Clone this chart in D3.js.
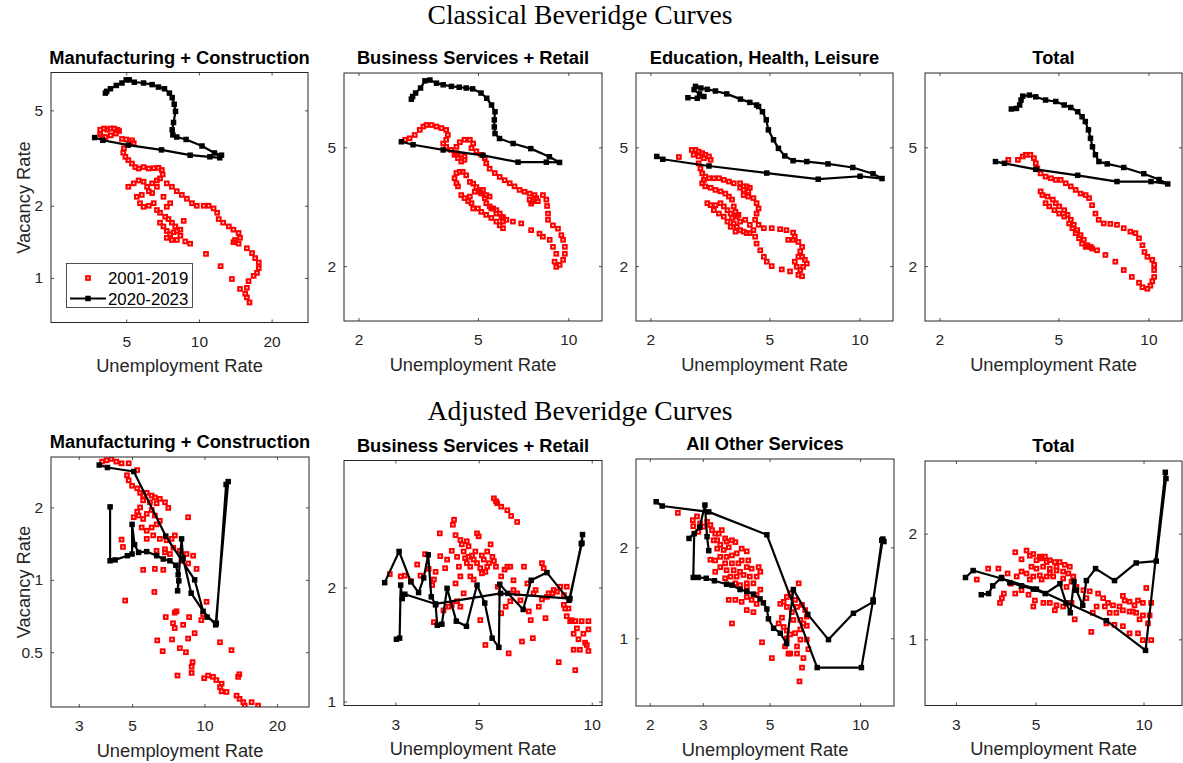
<!DOCTYPE html>
<html>
<head>
<meta charset="utf-8">
<script src="https://cdn.jsdelivr.net/npm/d3@7"></script>
<style>
  html, body { margin: 0; padding: 0; background: #ffffff; }
  svg { display: block; }
</style>
</head>
<body>
<svg id="chart" width="1183" height="763"></svg>
<script>
// ---------------------------------------------------------------
// Series: [unemployment rate, vacancy rate]
// ---------------------------------------------------------------
const seriesNames = ["2001-2019", "2020-2023"];
const rowTitles = ["Classical Beveridge Curves", "Adjusted Beveridge Curves"];
const panelTitles = [
  "Manufacturing + Construction", "Business Services + Retail", "Education, Health, Leisure", "Total",
  "Manufacturing + Construction", "Business Services + Retail", "All Other Services", "Total"
];
const xLabel = "Unemployment Rate";
const yLabel = "Vacancy Rate";

// Classical curves -------------------------------------------------
const classicMfgHist = [
  [3.9,4.15],[4.05,4.2],[4.17,4.15],[4.3,4.2],[4.45,4.2],[4.6,4.15],[4.67,4.1],[4.53,4.0],[4.31,3.93],[4.1,3.87],
  [3.97,3.87],[3.9,3.97],[4.8,3.8],[5.0,3.78],[5.28,3.75],[5.37,3.65],[4.89,3.47],[4.86,3.33],[4.96,3.2],[5.1,3.1],
  [5.28,3.0],[5.45,2.9],[5.63,2.86],[5.9,2.9],[6.2,2.86],[6.5,2.87],[6.8,2.88],[7.02,2.82],[7.08,2.7],[6.9,2.6],
  [6.7,2.55],[5.1,2.4],[5.37,2.48],[5.63,2.55],[5.9,2.52],[6.1,2.4],[6.4,2.48],[6.7,2.4],[6.2,2.3],[5.8,2.22],
  [5.53,2.18],[5.7,2.05],[5.9,1.98],[6.2,2.0],[6.5,2.05],[6.7,1.92],[6.9,1.87],[7.25,1.8],[7.48,1.76],[7.73,1.7],
  [7.98,1.64],[8.1,1.57],[8.38,1.5],[8.78,1.42],[9.2,1.39],[7.85,1.55],[7.36,1.57],[7.13,1.64],[6.9,1.7],[7.6,1.52],
  [7.36,1.47],[7.73,1.44],[8.1,1.44],[8.38,1.59],[8.65,1.73],[7.36,1.98],[7.6,2.05],[7.13,2.18],[6.4,2.26],
  [7.36,2.48],[7.73,2.4],[8.1,2.3],[8.5,2.22],[8.92,2.14],[9.36,2.05],[9.8,2.0],[10.47,2.0],[10.97,2.0],[11.5,1.95],
  [11.9,1.87],[12.08,1.76],[12.6,1.7],[13.3,1.64],[13.9,1.59],[14.6,1.54],[14.8,1.47],[14.1,1.44],[13.9,1.41],
  [14.6,1.39],[15.8,1.33],[16.6,1.27],[17.1,1.21],[17.7,1.16],[17.7,1.1],[17.4,1.05],[16.85,1.02],[16.05,0.97],
  [15.8,0.91],[15.55,0.86],[15.8,0.83],[16.2,0.79],[10.7,1.26],[12.3,1.12],[13.7,0.99],[14.8,0.9]
];
const classicMfgCovid = [
  [3.7,3.85],[4.0,3.75],[5.1,3.58],[7.0,3.42],[9.2,3.25],[11.1,3.2],[12.2,3.17],[12.4,3.25],[11.6,3.32],[10.3,3.55],
  [8.85,3.78],[8.1,3.87],[7.8,3.95],[7.75,4.15],[7.85,4.45],[8.0,4.95],[7.9,5.3],[7.75,5.65],[7.55,5.9],[7.2,6.15],
  [6.8,6.25],[6.4,6.4],[5.9,6.5],[5.4,6.55],[5.15,6.7],[5.0,6.7],[4.8,6.5],[4.55,6.35],[4.3,6.15],[4.15,6.0],[4.1,5.9]
];

const classicBizHist = [
  [2.86,5.3],[2.96,5.36],[3.08,5.5],[3.2,5.72],[3.29,5.87],[3.37,5.94],[3.5,5.94],[3.64,5.87],[3.78,5.8],[3.92,5.72],
  [3.97,5.5],[3.92,5.3],[3.83,5.15],[3.92,5.02],[4.07,4.9],[4.24,4.78],[4.4,4.72],[4.51,4.66],[4.51,4.54],[4.4,4.48],
  [4.29,4.6],[4.18,4.72],[4.24,5.02],[4.35,5.2],[4.51,5.3],[4.7,5.3],[4.82,5.15],[4.76,4.97],[4.94,4.85],[5.13,4.72],
  [5.27,4.6],[5.33,4.42],[5.47,4.24],[5.69,4.1],[5.91,3.98],[6.14,3.88],[6.38,3.79],[6.62,3.7],[6.88,3.6],[7.15,3.55],
  [7.43,3.5],[7.72,3.46],[7.82,3.38],[7.62,3.3],[7.43,3.34],[7.52,3.24],[7.92,3.3],[8.23,3.46],[8.45,3.34],[8.5,3.18],
  [8.56,3.0],[8.56,2.86],[8.89,2.74],[9.24,2.67],[9.48,2.54],[9.61,2.45],[9.74,2.32],[9.74,2.2],[9.61,2.1],[9.36,2.02],
  [9.12,1.99],[9.0,2.07],[9.12,2.2],[8.89,2.32],[8.67,2.45],[8.23,2.51],[8.02,2.57],[7.52,2.64],[6.97,2.78],[6.54,2.82],
  [6.22,2.86],[6.06,2.92],[5.91,3.0],[5.76,3.08],[5.62,3.12],[5.47,3.17],[5.33,3.25],[5.27,3.38],[5.13,3.5],[5.07,3.6],
  [4.94,3.68],[4.82,3.78],[4.7,3.83],[4.57,4.03],[4.45,4.14],[4.35,4.14],[4.24,4.1],[4.18,3.94],[4.24,3.79],[4.29,3.7],
  [4.4,3.46],[4.51,3.38],[4.7,3.42],[4.88,3.55],[5.07,3.55],[5.2,3.6],[5.33,3.46],[5.47,3.42],[5.54,3.12],[5.76,3.0],
  [5.99,2.92],[6.06,2.82],[6.06,2.68],[5.91,2.74],[5.76,2.82],[5.54,2.9],[5.33,2.97],[5.13,3.04],[5.0,3.12],[4.82,3.12],
  [4.76,3.25],[4.64,3.3]
];
const classicBizCovid = [
  [2.78,5.22],[3.04,5.1],[3.83,4.9],[5.2,4.7],[6.8,4.46],[8.45,4.46],[9.35,4.45],[8.65,4.65],[7.5,4.95],[6.55,5.15],
  [5.9,5.35],[5.7,5.56],[5.67,5.85],[5.67,6.18],[5.7,6.58],[5.55,6.93],[5.35,7.3],[5.12,7.6],[4.8,7.85],[4.57,7.9],
  [4.33,7.95],[4.08,8.0],[3.83,8.1],[3.64,8.2],[3.46,8.4],[3.33,8.35],[3.22,7.9],[3.1,7.6],[3.03,7.4],[3.0,7.25]
];

const classicEduHist = [
  [2.75,4.9],[2.83,4.9],[2.9,4.84],[2.98,4.78],[3.05,4.72],[3.14,4.66],[3.18,4.54],[3.02,4.6],[2.9,4.66],[2.79,4.72],
  [2.9,4.42],[2.94,4.25],[2.98,4.09],[3.05,3.99],[3.14,3.94],[3.26,3.94],[3.39,3.94],[3.52,3.89],[3.66,3.84],[3.8,3.79],
  [3.99,3.79],[4.1,3.7],[4.2,3.7],[4.3,3.66],[4.25,3.56],[4.1,3.6],[3.99,3.66],[2.49,4.64],
  [3.02,3.89],[2.98,3.79],[3.05,3.7],[3.18,3.66],[3.3,3.6],[3.43,3.56],[3.56,3.5],[3.66,3.42],[3.75,3.34],[3.8,3.17],
  [3.85,3.04],[3.94,2.97],[4.15,2.86],[4.3,2.75],[4.42,2.64],[4.48,2.51],[4.53,2.38],[4.66,2.26],[4.79,2.15],[4.9,2.07],
  [5.09,2.0],[5.5,1.95],[5.86,1.92],[6.25,1.87],[6.43,1.85],
  [4.1,3.46],[4.25,3.42],[4.42,3.38],[4.53,3.25],[4.6,3.12],[4.53,3.0],[4.48,2.86],[4.6,2.75],[4.79,2.68],[5.09,2.68],
  [5.43,2.66],[5.7,2.64],[6.0,2.59],[6.08,2.51],[6.25,2.41],[6.43,2.32],[6.34,2.24],[6.43,2.15],[6.57,2.1],[6.67,2.04],
  [6.48,1.99],[6.34,1.94],[6.17,1.99],[6.08,2.07],[6.25,2.15],[6.0,2.45],[5.78,2.45],
  [3.1,3.25],[3.18,3.2],[3.3,3.2],[3.43,3.25],[3.52,3.17],[3.62,3.08],[3.71,3.0],[3.75,2.9],[3.62,2.82],[3.8,2.78],
  [3.89,2.71],[3.99,2.64],[4.1,2.61],[4.2,2.58],[4.3,2.58],[3.99,2.82],[3.89,2.93],[3.26,3.08],[3.39,3.0],[3.52,2.93],
  [3.71,2.71],[3.85,2.61]
];
const classicEduCovid = [
  [2.1,4.66],[2.2,4.56],[3.14,4.33],[4.9,4.1],[7.28,3.91],[10.05,4.0],[11.9,3.93],[11.1,4.08],[9.5,4.28],[7.85,4.4],
  [6.67,4.48],[6.0,4.51],[5.63,4.68],[5.36,4.96],[5.16,5.3],[4.96,5.72],[4.88,6.18],[4.74,6.58],[4.6,6.85],[4.53,6.93],
  [4.3,7.07],[4.0,7.25],[3.6,7.55],[3.3,7.72],[3.1,7.82],[2.95,7.9],[2.83,8.0],[2.8,7.8],[2.92,7.55],[3.02,7.4],
  [2.87,7.3],[2.67,7.33]
];

const classicTotalHist = [
  [3.4,4.54],[3.66,4.54],[3.8,4.66],[3.89,4.72],[4.03,4.72],[4.14,4.6],[4.2,4.42],[4.25,4.25],[4.36,4.09],[4.53,3.99],
  [4.72,3.94],[4.9,3.89],[5.09,3.89],[5.29,3.79],[5.5,3.7],[5.71,3.6],[5.93,3.5],[6.17,3.46],[6.33,3.38],[6.48,3.2],
  [6.65,3.0],[6.82,2.86],[7.09,2.78],[7.46,2.77],[7.85,2.75],[8.27,2.68],[8.7,2.61],[9.05,2.58],[9.3,2.48],[9.55,2.35],
  [9.7,2.23],[9.92,2.15],[10.3,2.1],[10.45,2.02],[10.45,1.94],[10.45,1.84],[10.3,1.78],[10.15,1.72],[9.92,1.68],[9.55,1.7],
  [9.3,1.76],[8.8,1.84],[8.27,1.94],[7.75,2.07],[7.18,2.18],[6.73,2.26],[6.48,2.29],[6.25,2.35],[6.08,2.45],[5.93,2.54],
  [5.78,2.64],[5.63,2.75],[5.5,2.86],[5.36,2.97],[5.23,3.08],[5.03,3.17],[4.9,3.25],[4.79,3.34],[4.6,3.42],[4.42,3.46],
  [4.36,3.56],[4.53,3.25],[4.66,3.17],[4.85,3.08],[5.03,3.0],[5.23,2.93],[5.43,2.78],[5.57,2.68],[5.71,2.58],[5.86,2.48],
  [6.0,2.38],[6.17,2.32],[6.41,2.32]
];
const classicTotalCovid = [
  [3.08,4.48],[3.3,4.42],[4.2,4.22],[5.8,4.03],[7.85,3.84],[10.2,3.84],[11.6,3.77],[10.85,3.9],[9.65,4.08],[8.27,4.28],
  [7.28,4.4],[6.83,4.48],[6.65,4.72],[6.5,5.02],[6.4,5.36],[6.3,5.72],[6.15,6.1],[6.0,6.33],[5.8,6.58],[5.5,6.8],
  [5.23,6.93],[4.9,7.12],[4.53,7.2],[4.2,7.38],[4.0,7.48],[3.8,7.42],[3.75,7.2],[3.71,6.93],[3.62,6.75],[3.48,6.72]
];

// Adjusted curves --------------------------------------------------
const adjMfgHist = [
  [3.75,3.1],[3.92,3.14],[4.1,3.18],[4.3,3.1],[4.52,3.05],[4.84,3.05],[5.25,2.86],[4.76,2.72],[4.84,2.59],[5.0,2.46],
  [5.25,2.4],[5.4,2.3],[5.56,2.24],[5.75,2.3],[6.03,2.24],[6.22,2.2],[6.52,2.17],[6.85,2.1],[7.07,1.99],[6.32,2.08],
  [5.93,2.1],[5.56,2.14],[5.4,2.0],[5.25,1.92],[5.08,1.82],[5.32,1.85],[5.56,1.79],[5.75,1.88],[6.03,1.95],[6.22,1.85],
  [6.52,1.76],[6.32,1.7],[6.03,1.65],[5.75,1.6],[5.48,1.65],[5.75,1.48],[6.12,1.53],[6.52,1.48],[6.96,1.46],[7.3,1.48],
  [7.53,1.53],[7.42,1.36],[7.9,1.32],[8.42,1.28],[8.97,1.26],[9.27,1.11],[8.55,1.17],[8.03,1.2],[7.18,1.28],[6.85,1.34],
  [6.32,1.32],[4.52,1.47],[4.58,1.37],[5.56,1.1],[6.22,1.11],[6.74,1.1],[6.85,1.3],[6.19,0.89],[4.68,0.82],[6.9,0.7],
  [7.52,0.73],[7.65,0.74],[7.4,0.66],[7.52,0.63],[8.15,0.65],[8.63,0.7],[9.1,0.6],[8.55,0.57],[7.9,0.52],[8.37,0.5],
  [6.36,0.56],[6.7,0.505],[7.33,0.565],[8.92,0.455],[8.84,0.435],[8.84,0.41],[7.72,0.4],[9.97,0.39],[10.35,0.4],[10.85,0.395],
  [11.2,0.383],[11.78,0.37],[11.6,0.358],[11.78,0.344],[12.35,0.342],[12.95,0.51],[11.6,0.55],[13.8,0.395],[13.95,0.405],
  [13.6,0.33],[14.0,0.32],[14.5,0.31],[14.7,0.3],[15.7,0.31],[16.7,0.3],[8.55,1.82],[10.2,0.81],[9.7,0.68],[9.87,0.72]
];
const adjMfgCovid = [
  [4.05,2.01],[4.05,1.2],[4.25,1.21],[4.78,1.26],[5.0,1.28],[5.0,1.7],[5.12,1.4],[5.32,1.3],[5.75,1.31],[6.33,1.26],
  [6.74,1.22],[7.18,1.2],[7.6,1.15],[7.77,1.05],[7.82,0.99],[7.73,0.9],[8.03,1.48],[8.15,1.23],[8.8,0.88],[10.25,0.7],
  [11.2,0.66],[12.3,2.49],[12.55,2.56],[11.13,0.65],[9.87,0.74],[9.1,1.0],[6.9,1.52],[5.08,2.82],[3.95,2.93],[3.65,3.0]
];

const adjBizHist = [
  [2.9,2.17],[3.1,2.14],[3.18,2.15],[3.3,2.08],[3.43,2.3],[3.5,2.15],[3.6,2.45],[3.68,2.24],[3.8,2.1],[3.84,2.2],
  [3.76,2.03],[3.8,1.62],[3.94,2.78],[3.95,2.42],[4.03,1.74],[4.07,2.25],[4.12,2.37],[4.24,2.5],[4.3,3.02],[4.27,2.93],
  [4.34,2.75],[4.38,2.41],[4.43,2.27],[4.47,2.67],[4.51,2.6],[4.56,2.49],[4.6,2.39],[4.65,2.65],[4.7,2.57],[4.75,2.27],
  [4.8,2.43],[4.85,2.37],[4.9,2.49],[4.95,2.78],[5.0,2.73],[4.95,2.32],[5.05,2.25],[5.05,1.64],[5.1,2.18],[5.16,2.37],
  [5.21,1.41],[5.27,2.49],[5.38,2.6],[5.44,2.41],[5.49,2.35],[5.56,2.27],[5.49,3.44],[5.56,3.38],[5.6,3.34],[5.74,3.27],
  [5.96,3.2],[6.1,3.09],[6.33,2.98],[5.62,2.01],[5.74,2.14],[5.86,2.23],[5.96,2.27],[6.07,2.27],[5.74,1.71],[5.9,1.78],
  [6.01,1.34],[6.07,1.84],[6.19,1.97],[6.33,1.93],[6.46,1.85],[6.52,1.44],[6.6,2.27],[6.8,1.73],[6.88,1.64],[6.97,1.47],
  [7.09,1.97],[7.23,1.78],[7.37,2.32],[7.45,2.25],[7.53,1.66],[7.6,1.89],[7.68,1.93],[7.92,1.97],[8.17,1.27],[8.43,1.8],
  [8.5,1.76],[8.58,1.68],[8.67,1.76],[8.76,1.63],[8.84,1.64],[8.95,1.51],[9.04,1.63],[9.13,1.56],[9.22,1.46],[9.3,1.37],
  [9.4,1.63],[9.5,1.51],[9.6,1.43],[9.7,1.41],[9.8,1.55],[9.8,1.63],[9.8,1.36],[9.04,1.21],[8.95,1.37],[8.58,2.01],
  [8.43,1.91],[8.25,2.01],[8.08,1.95],[7.85,1.93],[7.37,1.86],[7.0,1.93],[6.74,2.05],[6.19,2.09],[5.21,2.2],[4.16,1.78],
  [4.24,1.8],[4.38,1.84],[4.47,1.78],[4.56,1.93],[4.34,2.05],[4.7,2.41],[4.65,2.32],[5.1,2.43],[4.75,2.14],[4.47,2.14],
  [5.33,2.32],[4.85,2.1],[5.27,2.27]
];
const adjBizCovid = [
  [2.81,2.06],[3.07,2.49],[3.3,2.07],[3.46,1.94],[3.57,2.12],[3.67,2.44],[3.74,1.89],[3.84,1.8],[3.88,1.59],[3.99,1.6],
  [4.12,1.99],[4.36,1.63],[4.64,1.58],[4.95,2.03],[5.19,1.82],[5.43,1.47],[5.66,1.39],[5.69,2.04],[5.98,1.93],[6.57,1.75],
  [6.9,2.09],[7.6,2.19],[8.7,1.85],[9.42,2.62],[9.45,2.76],[9.38,2.61],[8.75,1.87],[5.72,1.93],[3.84,1.81],[3.18,1.92],
  [3.13,1.87],[3.1,2.03],[3.08,1.47],[3.02,1.46]
];

const adjOtherHist = [
  [2.48,2.6],[2.78,2.46],[2.87,2.53],[2.94,2.4],[2.79,2.35],[2.9,2.25],[3.02,2.34],[3.1,2.43],[3.18,2.37],[3.22,2.28],
  [3.3,2.22],[3.26,2.11],[3.39,2.22],[3.47,2.28],[3.35,2.11],[3.43,2.04],[3.56,2.14],[3.6,2.09],[3.75,2.11],[3.85,2.08],
  [3.66,2.0],[3.52,1.96],[3.35,1.98],[3.18,1.82],[3.3,1.81],[3.43,1.86],[3.6,1.86],[3.75,1.88],[3.89,1.91],[4.04,1.98],
  [4.2,1.94],[4.04,1.81],[3.94,1.77],[3.75,1.77],[3.56,1.77],[3.43,1.72],[3.3,1.66],[3.6,1.68],[3.8,1.68],[3.99,1.66],
  [4.2,1.72],[4.25,1.81],[4.36,1.7],[4.6,1.72],[4.66,1.66],[4.53,1.6],[4.3,1.6],[4.1,1.62],[3.89,1.6],[3.71,1.6],
  [3.56,1.58],[3.85,1.52],[3.99,1.5],[4.2,1.52],[4.42,1.52],[4.66,1.45],[4.2,1.37],[4.36,1.34],[4.53,1.39],[4.2,1.24],
  [4.42,1.22],[4.53,1.3],[3.75,1.12],[4.72,0.97],[4.2,1.48],[3.66,1.34],[3.85,1.34],[4.04,1.32],
  [5.43,1.3],[5.57,1.32],[5.71,1.37],[5.86,1.41],[6.08,1.34],[6.25,1.52],[5.71,1.27],[5.93,1.22],[6.17,1.27],[6.41,1.29],
  [6.57,1.24],[6.65,1.18],[6.48,1.12],[6.33,1.07],[6.08,1.04],[5.86,1.03],[5.71,1.0],[5.63,0.94],[5.78,0.89],[6.17,0.94],
  [6.33,0.99],[6.65,0.99],[6.73,0.92],[6.48,0.86],[6.41,0.8],[6.29,0.72],[5.09,0.86],[5.5,1.17],[5.36,1.12],[5.57,1.09],
  [5.71,1.06],[6.0,1.15],[6.33,1.15],[6.65,1.1],[6.17,0.89],[5.86,0.89]
];
const adjOtherCovid = [
  [2.1,2.83],[2.2,2.74],[3.14,2.62],[4.9,2.2],[7.2,0.8],[10.1,0.8],[11.05,1.34],[11.9,2.13],[12.0,2.09],[11.8,2.11],
  [11.05,1.32],[9.5,1.21],[7.85,0.99],[6.7,1.2],[6.0,1.45],[5.7,0.96],[5.43,1.04],[5.16,1.08],[4.96,1.16],[4.9,1.25],
  [4.77,1.31],[4.65,1.35],[4.42,1.4],[4.2,1.43],[3.99,1.45],[3.75,1.5],[3.6,1.51],[3.28,1.55],[3.08,1.58],[2.9,1.59],
  [2.79,1.59],[2.81,2.22],[2.7,2.14],[2.93,2.33],[3.05,2.76],[3.1,2.17],[3.14,1.95]
];

const adjTotalHist = [
  [3.43,1.48],[3.69,1.59],[3.94,1.59],[4.39,1.77],[4.57,1.69],[4.82,1.73],[5.03,1.68],[5.2,1.7],[5.31,1.72],[5.48,1.68],
  [5.66,1.66],[5.84,1.66],[6.03,1.63],[6.23,1.61],[4.87,1.61],[5.03,1.59],[5.25,1.61],[5.48,1.59],[5.72,1.57],[5.97,1.56],
  [6.17,1.54],[6.37,1.51],[4.57,1.56],[4.72,1.54],[4.93,1.51],[5.14,1.52],[5.37,1.51],[5.6,1.51],[4.18,1.54],[4.27,1.44],
  [4.08,1.35],[4.03,1.31],[3.98,1.27],[4.39,1.35],[4.57,1.38],[4.78,1.34],[4.98,1.29],[5.26,1.27],[5.48,1.27],[5.72,1.25],
  [5.97,1.24],[6.3,1.27],[6.43,1.14],[5.66,1.21],[4.93,1.24],[7.08,1.37],[7.47,1.35],[7.72,1.31],[7.96,1.27],[8.22,1.25],
  [8.57,1.24],[8.86,1.29],[9.14,1.28],[9.44,1.25],[9.65,1.29],[9.96,1.27],[10.18,1.4],[7.8,1.24],[8.05,1.19],[8.4,1.19],
  [8.76,1.21],[9.14,1.2],[9.54,1.19],[9.96,1.17],[10.4,1.17],[7.88,1.11],[8.3,1.1],[8.76,1.09],[9.14,1.04],[9.65,1.04],
  [9.96,0.995],[10.5,0.995],[7.15,1.05],[9.33,1.2],[9.75,1.14],[10.29,1.11],[10.5,1.27],[8.76,1.33],[7.4,1.24],[6.93,1.31],
  [6.8,1.38],[7.22,1.19],[4.72,1.79],[4.93,1.75],[5.14,1.72],[5.37,1.66],[5.72,1.61],[5.48,1.54],[5.2,1.48],[4.82,1.48],
  [4.43,1.51],[5.97,1.49],[6.3,1.46],[6.5,1.41],[6.1,1.41]
];
const adjTotalCovid = [
  [3.19,1.5],[3.35,1.57],[4.02,1.49],[5.03,1.39],[7.88,1.13],[10.13,0.93],[11.5,2.99],[11.55,2.87],[10.85,1.67],[9.54,1.65],
  [8.3,1.47],[7.35,1.59],[6.93,1.47],[6.77,1.25],[6.5,1.38],[6.4,1.46],[6.25,1.19],[6.08,1.27],[5.85,1.44],[5.32,1.35],
  [4.93,1.39],[4.57,1.42],[4.24,1.45],[4.02,1.5],[3.8,1.42],[3.7,1.35],[3.53,1.34]
];

// Axis limits and tick values ----------------------------------------
const classicMfgXLim = [2.44, 28.3], classicMfgYLim = [0.652, 7.19];
const classicXLim = [1.79, 12.95], classicYLim = [1.31, 8.87];
const adjMfgXLim = [2.3, 27.2], adjMfgYLim = [0.296, 3.24];
const adjBizXLim = [2.19, 10.65], adjBizYLim = [0.976, 4.33];
const adjOtherXLim = [1.8, 12.96], adjOtherYLim = [0.597, 3.92];
const adjTotalXLim = [2.46, 12.8], adjTotalYLim = [0.648, 3.22];

const classicMfgXTicks = [5, 10, 20], classicMfgYTicks = [1, 2, 5];
const classicXTicks = [2, 5, 10], classicYTicks = [2, 5];
const adjMfgXTicks = [3, 5, 10, 20], adjMfgYTicks = [0.5, 1, 2];
const adjBizXTicks = [3, 5, 10], adjBizYTicks = [1, 2];
const adjOtherXTicks = [2, 3, 5, 10], adjOtherYTicks = [1, 2];
const adjTotalXTicks = [3, 5, 10], adjTotalYTicks = [1, 2];

// ---------------------------------------------------------------
// Layout: axes boxes [left, right, top, bottom]
// ---------------------------------------------------------------
const boxes = [
  [51, 308, 72.5, 322.5], [344, 602, 73, 321], [636, 893, 73, 321], [925, 1182, 73, 321],
  [51, 309, 457, 707], [344, 602, 460.5, 705.5], [636, 894, 459, 706], [925, 1182, 461, 705.5]
];

const panels = [
  { hist: classicMfgHist, covid: classicMfgCovid, xLim: classicMfgXLim, yLim: classicMfgYLim, xTicks: classicMfgXTicks, yTicks: classicMfgYTicks, ylab: true, legend: true },
  { hist: classicBizHist, covid: classicBizCovid, xLim: classicXLim, yLim: classicYLim, xTicks: classicXTicks, yTicks: classicYTicks },
  { hist: classicEduHist, covid: classicEduCovid, xLim: classicXLim, yLim: classicYLim, xTicks: classicXTicks, yTicks: classicYTicks },
  { hist: classicTotalHist, covid: classicTotalCovid, xLim: classicXLim, yLim: classicYLim, xTicks: classicXTicks, yTicks: classicYTicks },
  { hist: adjMfgHist, covid: adjMfgCovid, xLim: adjMfgXLim, yLim: adjMfgYLim, xTicks: adjMfgXTicks, yTicks: adjMfgYTicks, ylab: true },
  { hist: adjBizHist, covid: adjBizCovid, xLim: adjBizXLim, yLim: adjBizYLim, xTicks: adjBizXTicks, yTicks: adjBizYTicks },
  { hist: adjOtherHist, covid: adjOtherCovid, xLim: adjOtherXLim, yLim: adjOtherYLim, xTicks: adjOtherXTicks, yTicks: adjOtherYTicks },
  { hist: adjTotalHist, covid: adjTotalCovid, xLim: adjTotalXLim, yLim: adjTotalYLim, xTicks: adjTotalXTicks, yTicks: adjTotalYTicks }
];
panels.forEach((p, i) => { p.title = panelTitles[i]; p.box = boxes[i]; });

// ---------------------------------------------------------------
const SANS = "'Liberation Sans', Arial, Helvetica, sans-serif";
const SERIF = "'Liberation Serif', 'Times New Roman', serif";
const AXIS_COLOR = "#262626";
const RED = "#ff0000";
const histSize = 3.6, histStroke = 2.1, covidSize = 5.5;

const svg = d3.select("#chart");
svg.append("rect").attr("width", 1183).attr("height", 763).attr("fill", "#ffffff");
const defs = svg.append("defs");

// Row headings
[[580, 24], [580, 420]].forEach(([cx, by], i) => {
  svg.append("text")
    .attr("x", cx).attr("y", by)
    .attr("text-anchor", "middle")
    .attr("font-family", SERIF).attr("font-size", 27.6)
    .attr("fill", "#000")
    .text(rowTitles[i]);
});

const fmt = d3.format("~g");

panels.forEach((p, i) => {
  const [L, R, T, B] = p.box;
  const x = d3.scaleLog().domain(p.xLim).range([L, R]);
  const y = d3.scaleLog().domain(p.yLim).range([B, T]);
  const g = svg.append("g");

  g.append("rect").attr("x", L).attr("y", T).attr("width", R - L).attr("height", B - T).attr("fill", "#fff");

  const clipId = "clip" + i;
  defs.append("clipPath").attr("id", clipId)
    .append("rect").attr("x", L).attr("y", T).attr("width", R - L).attr("height", B - T);
  const plot = g.append("g").attr("clip-path", `url(#${clipId})`);

  // 2001-2019: open red squares
  plot.append("g").selectAll("rect").data(p.hist).join("rect")
    .attr("x", d => x(d[0]) - histSize / 2)
    .attr("y", d => y(d[1]) - histSize / 2)
    .attr("width", histSize).attr("height", histSize)
    .attr("fill", "none").attr("stroke", RED).attr("stroke-width", histStroke);

  // 2020-2023: black line with filled squares
  plot.append("path").datum(p.covid)
    .attr("d", d3.line().x(d => x(d[0])).y(d => y(d[1])))
    .attr("fill", "none").attr("stroke", "#000").attr("stroke-width", 2.2)
    .attr("stroke-linejoin", "round");
  plot.append("g").selectAll("rect").data(p.covid).join("rect")
    .attr("x", d => x(d[0]) - covidSize / 2)
    .attr("y", d => y(d[1]) - covidSize / 2)
    .attr("width", covidSize).attr("height", covidSize)
    .attr("fill", "#000");

  // Axes (ticks drawn inward on all four sides)
  const styleAxis = sel => {
    sel.select(".domain").remove();
    sel.selectAll(".tick line").attr("stroke", AXIS_COLOR).attr("stroke-width", 0.8);
    sel.selectAll(".tick text").attr("fill", AXIS_COLOR).attr("font-family", SANS).attr("font-size", 15.5);
  };
  g.append("g").attr("transform", `translate(0,${B})`)
    .call(d3.axisBottom(x).tickValues(p.xTicks).tickFormat(fmt).tickSize(-3).tickSizeOuter(0).tickPadding(13))
    .call(styleAxis);
  g.append("g").attr("transform", `translate(0,${T})`)
    .call(d3.axisTop(x).tickValues(p.xTicks).tickFormat("").tickSize(-3).tickSizeOuter(0))
    .call(styleAxis);
  g.append("g").attr("transform", `translate(${L},0)`)
    .call(d3.axisLeft(y).tickValues(p.yTicks).tickFormat(fmt).tickSize(-3).tickSizeOuter(0).tickPadding(8))
    .call(styleAxis);
  g.append("g").attr("transform", `translate(${R},0)`)
    .call(d3.axisRight(y).tickValues(p.yTicks).tickFormat("").tickSize(-3).tickSizeOuter(0))
    .call(styleAxis);

  g.append("rect").attr("x", L).attr("y", T).attr("width", R - L).attr("height", B - T)
    .attr("fill", "none").attr("stroke", AXIS_COLOR).attr("stroke-width", 1);

  // Titles and labels
  g.append("text")
    .attr("x", (L + R) / 2).attr("y", T - 9)
    .attr("text-anchor", "middle")
    .attr("font-family", SANS).attr("font-weight", "bold").attr("font-size", 18.3)
    .attr("fill", "#000")
    .text(p.title);
  g.append("text")
    .attr("x", (L + R) / 2).attr("y", B + 49.5)
    .attr("text-anchor", "middle")
    .attr("font-family", SANS).attr("font-size", 18.3)
    .attr("fill", AXIS_COLOR)
    .text(xLabel);
  if (p.ylab) {
    g.append("text")
      .attr("transform", `translate(30,${(T + B) / 2}) rotate(-90)`)
      .attr("text-anchor", "middle")
      .attr("font-family", SANS).attr("font-size", 18.3)
      .attr("fill", AXIS_COLOR)
      .text(yLabel);
  }

  // Legend
  if (p.legend) {
    const lg = g.append("g");
    lg.append("rect").attr("x", 66.5).attr("y", 263.5).attr("width", 126).attr("height", 44)
      .attr("fill", "#fff").attr("stroke", AXIS_COLOR).attr("stroke-width", 0.8);
    lg.append("rect").attr("x", 88 - histSize / 2).attr("y", 278 - histSize / 2)
      .attr("width", histSize).attr("height", histSize)
      .attr("fill", "none").attr("stroke", RED).attr("stroke-width", histStroke);
    lg.append("line").attr("x1", 70).attr("x2", 106).attr("y1", 298.5).attr("y2", 298.5)
      .attr("stroke", "#000").attr("stroke-width", 2.2);
    lg.append("rect").attr("x", 88 - covidSize / 2).attr("y", 298.5 - covidSize / 2)
      .attr("width", covidSize).attr("height", covidSize).attr("fill", "#000");
    seriesNames.forEach((name, k) => {
      lg.append("text").attr("x", 108).attr("y", 284 + k * 20.5)
        .attr("font-family", SANS).attr("font-size", 16.8).attr("fill", "#000")
        .text(name);
    });
  }
});
</script>
</body>
</html>
